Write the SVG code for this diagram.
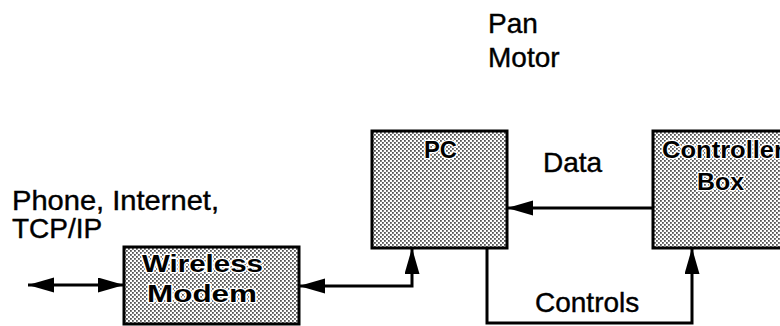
<svg xmlns="http://www.w3.org/2000/svg" width="780" height="326" viewBox="0 0 780 326">
<defs>
<pattern id="stip" width="4" height="4" patternUnits="userSpaceOnUse">
<rect width="4" height="4" fill="#ffffff"/>
<rect x="0" y="0" width="1.8" height="1.8" fill="#555"/>
<rect x="2" y="2" width="1.8" height="1.8" fill="#555"/>
</pattern>
<marker id="ah" markerUnits="userSpaceOnUse" markerWidth="28" markerHeight="16" refX="26" refY="7.5" orient="auto-start-reverse" viewBox="0 0 28 16">
<path d="M0,0 L26,7.5 L0,15 Z" fill="#000"/>
</marker>
<style>
.box{fill:url(#stip);stroke:#000;stroke-width:3}
.lbl{font-family:"Liberation Sans",Arial,sans-serif;font-weight:bold;font-size:23px;fill:#000;stroke:#fff;stroke-width:2.5;paint-order:stroke;stroke-linejoin:round}
.txt{font-family:"Liberation Sans",Arial,sans-serif;font-size:28px;fill:#000;stroke:#000;stroke-width:0.4}
.con{fill:none;stroke:#000;stroke-width:3}
</style>
</defs>
<g id="pan-motor">
<text class="txt" x="488" y="33">Pan</text>
<text class="txt" x="488" y="67">Motor</text>
</g>
<g id="phone-label">
<text class="txt" x="12" y="210" textLength="207" lengthAdjust="spacingAndGlyphs">Phone, Internet,</text>
<text class="txt" x="12" y="238">TCP/IP</text>
</g>
<g id="pc">
<rect class="box" x="372" y="131" width="135" height="117"/>
<text class="lbl" x="424" y="158" textLength="33" lengthAdjust="spacingAndGlyphs">PC</text>
</g>
<g id="controller-box">
<rect class="box" x="653" y="131" width="135" height="117"/>
<text class="lbl" x="662" y="158" textLength="122" lengthAdjust="spacingAndGlyphs">Controller</text>
<text class="lbl" x="697" y="190" textLength="47" lengthAdjust="spacingAndGlyphs">Box</text>
</g>
<g id="wireless-modem">
<rect class="box" x="124" y="247" width="175" height="77"/>
<text class="lbl" x="142" y="272" textLength="121" lengthAdjust="spacingAndGlyphs">Wireless</text>
<text class="lbl" x="147" y="302" textLength="110" lengthAdjust="spacingAndGlyphs">Modem</text>
</g>
<g id="connectors">
<path class="con" d="M28,285 L124,285" marker-start="url(#ah)" marker-end="url(#ah)"/>
<path class="con" d="M299,286 L412,286 L412,248" marker-start="url(#ah)" marker-end="url(#ah)"/>
<path class="con" d="M653,208 L507,208" marker-end="url(#ah)"/>
<path class="con" d="M487,248 L487,323 L692,323 L692,248" marker-end="url(#ah)"/>
</g>
<g id="edge-labels">
<text class="txt" x="543" y="172">Data</text>
<text class="txt" x="535" y="312">Controls</text>
</g>
</svg>
